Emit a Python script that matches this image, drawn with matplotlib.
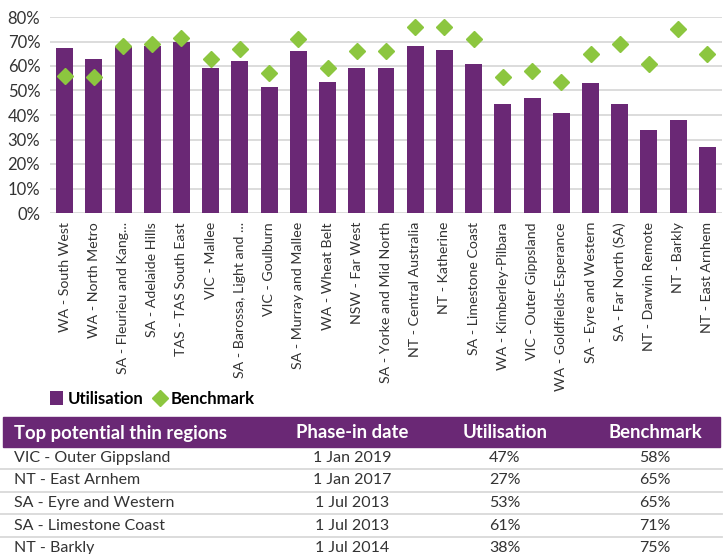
import matplotlib
matplotlib.use('Agg')
import matplotlib.pyplot as plt
from matplotlib.patches import Patch, Rectangle
from matplotlib.lines import Line2D
from matplotlib.ticker import PercentFormatter

plt.rcParams['font.family'] = ['Lato', 'DejaVu Sans']

# chart data
regions = ['WA - South West', 'WA - North Metro', 'SA - Fleurieu and Kang...',
           'SA - Adelaide Hills', 'TAS - TAS South East', 'VIC - Mallee',
           'SA - Barossa, Light and ...', 'VIC - Goulburn', 'SA - Murray and Mallee',
           'WA - Wheat Belt', 'NSW - Far West', 'SA - Yorke and Mid North',
           'NT - Central Australia', 'NT - Katherine', 'SA - Limestone Coast',
           'WA - Kimberley-Pilbara', 'VIC - Outer Gippsland', 'WA - Goldfields-Esperance',
           'SA - Eyre and Western', 'SA - Far North (SA)', 'NT - Darwin Remote',
           'NT - Barkly', 'NT - East Arnhem']
utilisation = [67.5, 63, 68, 68, 70, 59, 62, 51.5, 66, 53.5, 59, 59,
               68, 66.5, 61, 44.5, 47, 41, 53, 44.5, 34, 38, 27]
benchmark = [56, 55.5, 68, 69, 71.5, 63, 67, 57, 71, 59, 66, 66,
             76, 76, 71, 55.5, 58, 53.5, 65, 69, 61, 75, 65]

# table data
table_header = ['Top potential thin regions', 'Phase-in date', 'Utilisation', 'Benchmark']
table_regions = ['VIC - Outer Gippsland', 'NT - East Arnhem', 'SA - Eyre and Western',
                 'SA - Limestone Coast', 'NT - Barkly']
table_dates = ['1 Jan 2019', '1 Jan 2017', '1 Jul 2013', '1 Jul 2013', '1 Jul 2014']
table_util = ['47%', '27%', '53%', '61%', '38%']
table_bench = ['58%', '65%', '65%', '71%', '75%']

purple = '#6a2875'
green = '#8cc63f'
grid_c = '#d9d9d9'
txt_c = '#333333'

W, H = 725, 554
fig = plt.figure(figsize=(W / 100, H / 100), dpi=100)

ax = fig.add_axes([50 / W, 1 - 213 / H, (722 - 50) / W, (213 - 17) / H])
x = range(len(regions))
ax.bar(x, utilisation, width=0.58, color=purple, zorder=2)
ax.plot(x, benchmark, linestyle='none', marker='D', markersize=7.7,
        color=green, zorder=3)

ax.set_xlim(-0.5, len(regions) - 0.5)
ax.set_ylim(0, 80)
ax.set_yticks(range(0, 81, 10))
ax.yaxis.set_major_formatter(PercentFormatter(xmax=100, decimals=0))
ax.yaxis.grid(True, color=grid_c, linewidth=1.3, zorder=0)
ax.set_axisbelow(True)
for s in ax.spines.values():
    s.set_visible(False)
ax.set_xticks(list(x))
ax.set_xticklabels(regions, rotation=90, fontsize=10.2, color=txt_c)
ax.tick_params(axis='x', length=0, pad=6.5)
ax.tick_params(axis='y', length=0, pad=7, labelsize=12, labelcolor=txt_c)

# legend
handles = [Patch(facecolor=purple, edgecolor='none'),
           Line2D([], [], linestyle='none', marker='D', markersize=8.5, color=green)]
fig.legend(handles, ['Utilisation', 'Benchmark'], loc='center left',
           bbox_to_anchor=(50 / W, 1 - 399 / H), ncol=2, frameon=False,
           prop={'weight': 'bold', 'size': 12}, handlelength=0.75,
           handleheight=0.9, handletextpad=0.3, columnspacing=0.6,
           borderaxespad=0, borderpad=0)

# table below the chart
tab = fig.add_axes([0, 0, 1, 1])
tab.set_xlim(0, W)
tab.set_ylim(H, 0)
tab.axis('off')
tab.add_patch(Rectangle((3, 417), 717, 30, color=purple))
col_x = [14, 352, 505, 655]
col_ha = ['left', 'center', 'center', 'center']
for cx, ha, h in zip(col_x, col_ha, table_header):
    tab.text(cx, 433, h, ha=ha, va='center', color='white',
             fontsize=13.3, fontweight='bold')
row_y = [458, 480.5, 503, 525.5, 548]
for ry, cells in zip(row_y, zip(table_regions, table_dates, table_util, table_bench)):
    for cx, ha, c in zip(col_x, col_ha, cells):
        tab.text(cx, ry, c, ha=ha, va='center', color=txt_c, fontsize=11.5)
for ly in [469, 491.5, 514, 536.5]:
    tab.plot([0, 722], [ly, ly], color=grid_c, linewidth=1.3)

fig.savefig('out.png', dpi=100)
